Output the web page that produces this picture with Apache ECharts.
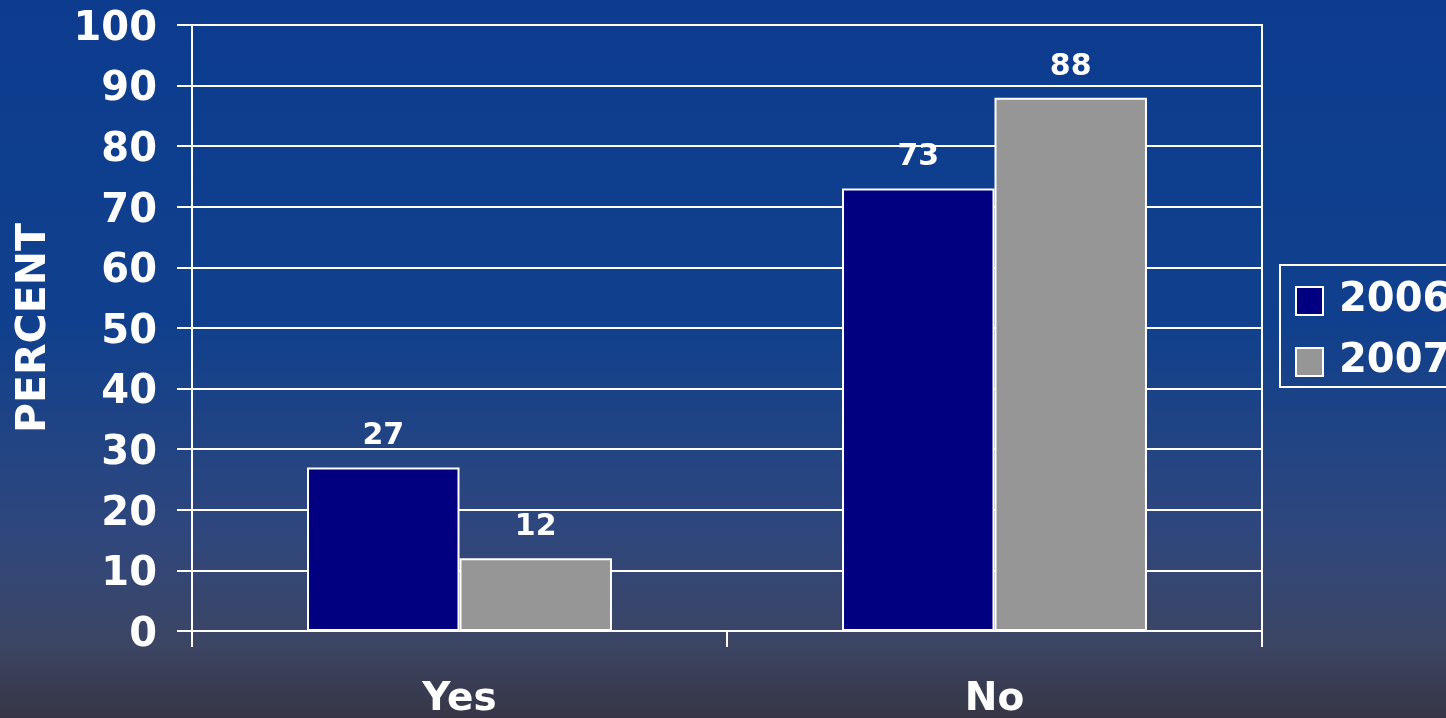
<!DOCTYPE html>
<html>
<head>
<meta charset="utf-8">
<script src="https://cdn.jsdelivr.net/npm/echarts@6/dist/echarts.min.js"></script>
<style>
  html, body { margin: 0; padding: 0; }
  #chart { width: 1446px; height: 718px; }
</style>
</head>
<body>
<div id="chart"></div>
<script>
// Survey answers by year, in percent
const categories = ['Yes', 'No'];
const seriesNames = ['2006', '2007'];
const values2006 = [27, 73];
const values2007 = [12, 88];
const yTicks = { min: 0, max: 100, interval: 10 };

const FONT = '"DejaVu Sans", Verdana, sans-serif';
const chart = echarts.init(document.getElementById('chart'));

const labelStyle = {
  show: true,
  position: 'top',
  distance: 16,
  color: '#ffffff',
  fontFamily: FONT,
  fontWeight: 'bold',
  fontSize: 30
};

chart.setOption({
  backgroundColor: {
    type: 'linear', x: 0, y: 0, x2: 0, y2: 1,
    colorStops: [
      { offset: 0, color: '#0d3c8f' },
      { offset: 0.45, color: '#10408d' },
      { offset: 0.75, color: '#30477c' },
      { offset: 0.9, color: '#3c4563' },
      { offset: 1, color: '#363646' }
    ]
  },
  animation: false,
  grid: {
    left: 192, right: 184, top: 25, bottom: 87,
    outerBoundsMode: 'none',
    containLabel: false,
    show: true, borderColor: '#ffffff', borderWidth: 2,
    backgroundColor: 'transparent'
  },
  legend: {
    orient: 'vertical',
    left: 1280, top: 265,
    data: seriesNames,
    icon: 'rect',
    itemWidth: 27, itemHeight: 28, itemGap: 21,
    padding: [16, 12, 5, 15],
    borderColor: '#ffffff', borderWidth: 2,
    textStyle: {
      color: '#ffffff', fontFamily: FONT, fontWeight: 'bold', fontSize: 40,
      padding: [0, 0, 0, 11]
    }
  },
  xAxis: {
    type: 'category',
    data: categories,
    axisLine: { show: true, lineStyle: { color: '#ffffff', width: 2 } },
    axisTick: { show: true, length: 16, alignWithLabel: false, lineStyle: { color: '#ffffff', width: 2 } },
    axisLabel: { color: '#ffffff', fontFamily: FONT, fontWeight: 'bold', fontSize: 39, margin: 49 },
    splitLine: { show: false }
  },
  yAxis: {
    type: 'value',
    min: yTicks.min, max: yTicks.max, interval: yTicks.interval,
    name: 'PERCENT',
    nameLocation: 'middle',
    nameGap: 137,
    nameRotate: 90,
    nameTextStyle: { color: '#ffffff', fontFamily: FONT, fontWeight: 'bold', fontSize: 41 },
    axisLine: { show: true, lineStyle: { color: '#ffffff', width: 2 } },
    axisTick: { show: true, length: 15, lineStyle: { color: '#ffffff', width: 2 } },
    axisLabel: {
      margin: 35,
      formatter: '{t|{value}}',
      rich: {
        t: {
          color: '#ffffff', fontFamily: FONT, fontWeight: 'bold', fontSize: 40,
          padding: [9, 0, 0, 0]
        }
      }
    },
    splitLine: { show: true, lineStyle: { color: '#ffffff', width: 2 } }
  },
  series: [
    {
      name: seriesNames[0], type: 'bar', data: values2006,
      barGap: '0%', barCategoryGap: '43%',
      itemStyle: { color: '#000080', borderColor: '#ffffff', borderWidth: 2 },
      label: labelStyle
    },
    {
      name: seriesNames[1], type: 'bar', data: values2007,
      barGap: '0%', barCategoryGap: '43%',
      itemStyle: { color: '#969696', borderColor: '#ffffff', borderWidth: 2 },
      label: labelStyle
    }
  ]
});
</script>
</body>
</html>
